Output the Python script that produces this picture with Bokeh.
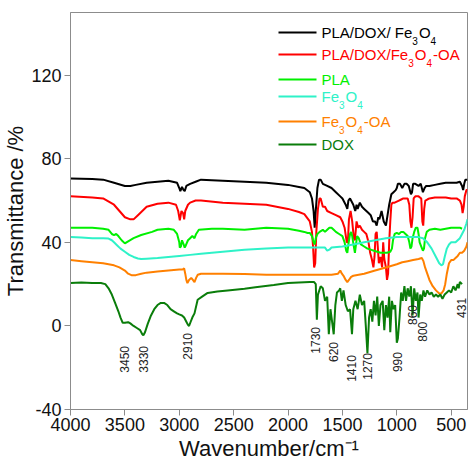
import math
from bokeh.plotting import figure
from bokeh.models import Range1d, FixedTicker, Label, BoxAnnotation, ColumnDataSource
from bokeh.core.properties import value
from bokeh.embed import file_html
from bokeh.resources import INLINE

# ---------------- data ----------------
# legend names as (text, subscript?) pieces
names = [
    [("PLA/DOX/ Fe", False), ("3", True), ("O", False), ("4", True)],
    [("PLA/DOX/Fe", False), ("3", True), ("O", False), ("4", True), ("-OA", False)],
    [("PLA", False)],
    [("Fe", False), ("3", True), ("O", False), ("4", True)],
    [("Fe", False), ("3", True), ("O", False), ("4", True), ("-OA", False)],
    [("DOX", False)],
]
colors = ["#000000", "#ff0000", "#00f000", "#2ef2c8", "#ff8000", "#0a7d0a"]

wn_black = [4000, 3800, 3700, 3600, 3500, 3450, 3400, 3300, 3200, 3100, 3020, 3000, 2990, 2975, 2960, 2950, 2935, 2900, 2850, 2800,
            2600, 2400, 2200, 2000, 1900, 1850, 1800, 1780, 1765, 1755, 1745, 1730, 1715, 1700, 1680, 1640, 1600, 1560, 1520, 1500,
            1470, 1455, 1445, 1430, 1400, 1382, 1370, 1360, 1340, 1320, 1300, 1280, 1260, 1240, 1220, 1200, 1185, 1170, 1160, 1140,
            1120, 1100, 1085, 1070, 1050, 1030, 1010, 1000, 990, 970, 950, 930, 910, 890, 870, 860, 850, 830, 800, 780,
            760, 745, 730, 700, 650, 600, 550, 500, 450, 420, 400, 390, 380, 370, 360, 350]
t_black = [70.5, 70.3, 70, 68.5, 67, 67, 67.5, 68.5, 69, 69.5, 68.5, 66, 64.5, 66.5, 65, 64.5, 67, 68, 69, 70,
           69.5, 69, 68.5, 67.5, 66.5, 66, 64, 61, 55, 47, 55, 66, 70, 70, 68, 67, 66, 64, 62, 61,
           58, 56, 60, 61, 58, 55, 58, 56, 59, 57, 56, 55, 54, 53, 50, 50, 48, 52, 51, 55,
           50, 48, 53, 58, 63, 64, 65, 66, 68, 68, 66, 68, 68, 67, 63, 64, 68, 68, 67, 68,
           64, 66, 67, 67, 67.5, 68, 68.5, 68.5, 68.5, 69, 67, 65, 68, 70, 70, 70]

wn_red = [4000, 3800, 3700, 3600, 3550, 3500, 3450, 3420, 3380, 3300, 3200, 3100, 3030, 3010, 2995, 2980, 2965, 2955, 2945, 2920,
          2900, 2850, 2800, 2600, 2400, 2200, 2000, 1900, 1850, 1800, 1780, 1770, 1760, 1750, 1740, 1725, 1710, 1700, 1680, 1660,
          1640, 1600, 1560, 1520, 1500, 1480, 1460, 1450, 1440, 1425, 1410, 1395, 1385, 1370, 1355, 1340, 1320, 1300, 1280, 1260,
          1245, 1230, 1215, 1205, 1195, 1185, 1175, 1165, 1150, 1135, 1125, 1115, 1100, 1090, 1080, 1070, 1060, 1050, 1040, 1020,
          1000, 980, 960, 940, 920, 900, 885, 875, 865, 855, 845, 830, 800, 775, 765, 757, 748, 738, 720, 700,
          650, 600, 550, 500, 450, 420, 405, 395, 385, 375, 360, 350]
t_red = [62, 61.5, 61, 58, 55, 52, 51, 51, 53, 57, 58.5, 59, 58, 55, 50.5, 55, 54, 51, 55, 58,
         59, 60, 60, 59, 58.5, 58, 56, 54.5, 53.5, 50, 45, 38, 28, 30, 45, 56, 61, 61, 57, 57,
         55, 54, 53, 52, 50, 47, 40, 40, 51, 55, 50, 42, 41, 50, 47, 48, 46, 45, 44, 40,
         35, 32, 28, 33, 44, 45, 38, 30, 33, 28, 40, 32, 28, 22, 25, 40, 50, 58, 59, 59,
         59.5, 60, 60.5, 61, 61, 61, 58, 50, 47, 52, 61, 62, 62, 61, 50, 48, 56, 60, 60.5, 61,
         61.5, 61.5, 61.5, 61, 61, 60, 58, 54, 57, 62, 65, 65]

wn_pla = [4000, 3800, 3700, 3650, 3620, 3600, 3580, 3560, 3530, 3500, 3470, 3420, 3350, 3250, 3200, 3100, 3050, 3020, 3000, 2995,
          2985, 2975, 2960, 2950, 2940, 2920, 2900, 2880, 2860, 2845, 2820, 2700, 2600, 2400, 2200, 2000, 1900, 1850, 1820, 1800,
          1780, 1765, 1755, 1745, 1730, 1710, 1680, 1660, 1640, 1620, 1600, 1580, 1560, 1530, 1500, 1480, 1465, 1455, 1445, 1430,
          1420, 1410, 1395, 1385, 1375, 1365, 1350, 1330, 1300, 1270, 1240, 1210, 1180, 1150, 1120, 1090, 1060, 1045, 1035, 1020,
          1000, 980, 960, 940, 920, 900, 885, 875, 865, 855, 840, 825, 810, 800, 790, 775, 760, 750, 740, 725,
          700, 650, 600, 550, 500, 450, 420, 400]
t_pla = [47, 47, 46.5, 46, 44, 43.5, 44, 43, 41, 39.5, 40.5, 42, 43.5, 45, 46, 46.5, 46, 44, 40, 37.5,
         38, 41, 39, 37.5, 38.5, 41, 42, 43, 42, 44, 46, 46.5, 46.5, 46, 47, 46.5, 45.5, 45, 44.5, 44.5,
         43, 40, 39, 42, 44, 45, 46, 45, 46, 47, 47, 46, 45, 44, 43, 40, 36, 35, 39, 44,
         45, 43, 38, 35, 39, 43, 42, 39, 38, 37, 36.5, 36, 35.5, 35, 35, 35, 35.5, 37, 41, 44,
         44.5, 44, 45, 45, 44, 43, 40, 37, 38, 42, 45, 47, 47, 44, 40, 38, 36, 37, 42, 45,
         46, 46.5, 46, 46.5, 47, 47, 47, 46.5]

wn_fe = [4000, 3900, 3800, 3700, 3650, 3620, 3600, 3570, 3540, 3500, 3460, 3420, 3380, 3350, 3300, 3200, 3100, 3000, 2900, 2800,
         2700, 2600, 2500, 2400, 2200, 2000, 1800, 1700, 1660, 1640, 1620, 1600, 1500, 1400, 1300, 1200, 1100, 1000, 900, 800,
         760, 720, 680, 640, 610, 590, 575, 560, 540, 520, 500, 480, 460, 440, 420, 400, 380, 360, 350]
t_fe = [42.5, 42.3, 42, 42, 41.8, 41, 40, 38.5, 37, 35.5, 34, 33, 32.3, 32, 32.2, 32.5, 33, 33.5, 34, 34.5,
        35, 35.5, 36, 36.5, 37, 37.5, 37.5, 37.5, 37.5, 36, 36.5, 37.5, 38, 39, 40, 41, 42, 42.5, 42.5, 42.5,
        42, 40, 37, 33, 30, 29, 29.5, 33, 37, 39, 40, 40, 40, 41, 42, 44, 46, 49, 51]

wn_feoa = [4000, 3900, 3800, 3700, 3600, 3550, 3500, 3470, 3440, 3400, 3350, 3300, 3200, 3100, 3000, 2970, 2955, 2945, 2935, 2925,
           2910, 2890, 2875, 2860, 2845, 2830, 2800, 2600, 2400, 2200, 2000, 1800, 1700, 1600, 1540, 1520, 1505, 1490, 1470, 1455,
           1440, 1420, 1400, 1300, 1200, 1100, 1000, 950, 900, 850, 800, 770, 755, 740, 720, 700, 670, 640, 610, 590,
           570, 555, 540, 520, 500, 480, 460, 440, 420, 400, 380, 360, 350]
t_feoa = [31.5, 31, 30.5, 30, 29, 28, 26.5, 25, 24.3, 24.3, 25, 25.5, 26, 26.5, 27, 27, 27.5, 25, 22, 20.5,
          22, 23, 22, 21, 23, 24.5, 25, 25, 24.8, 24.5, 24.5, 24.5, 24.5, 24.5, 25, 26.5, 25, 24, 22, 21,
          22, 23.5, 24, 25, 26.5, 28, 29.5, 30.5, 31, 31.5, 32, 32.5, 31, 28, 25, 22, 19, 17, 15.5, 15.5,
          17, 20, 25, 30, 31.5, 31.5, 32.5, 33.5, 35, 35, 36, 38, 40]

wn_dox = [4000, 3900, 3800, 3720, 3680, 3650, 3620, 3590, 3560, 3540, 3520, 3500, 3470, 3450, 3420, 3390, 3360, 3340, 3330, 3315,
          3290, 3260, 3230, 3200, 3170, 3140, 3110, 3080, 3050, 3020, 3000, 2975, 2955, 2935, 2920, 2910, 2895, 2880, 2860, 2831,
          2790, 2739, 2650, 2555, 2400, 2300, 2131, 2000, 1900, 1800, 1760, 1745, 1735, 1725, 1700, 1680, 1660, 1640, 1625, 1610,
          1595, 1580, 1565, 1550, 1530, 1520, 1505, 1490, 1470, 1450, 1430, 1412, 1400, 1380, 1360, 1340, 1320, 1300, 1285, 1270,
          1255, 1240, 1225, 1210, 1195, 1180, 1165, 1150, 1130, 1115, 1100, 1085, 1070, 1060, 1045, 1030, 1015, 1000, 990, 975,
          960, 945, 930, 915, 900, 885, 870, 855, 840, 825, 810, 800, 785, 770, 755, 740, 720, 700, 680, 660,
          640, 620, 600, 580, 560, 540, 520, 500, 480, 460, 440, 431, 420, 400]
t_dox = [20.5, 20.8, 20.5, 20.5, 20, 18, 15, 11, 7, 4, 1.5, 1.5, 1.8, 1.2, 0, -1, -2, -4, -4.5, -3,
         1, 5, 8, 10, 11, 11, 10, 8, 7, 6, 5.5, 5, 4, 2, 0.5, 0, 2, 4, 6, 12.5,
         14, 15.8, 16.5, 17, 17.8, 18.5, 19.6, 20.5, 20.8, 21, 21, 20, 3, 15, 19, 18, 12, 14, -4, 8,
         2, -4, 10, 16, 17, 18, 12, 17, 10, 7, 8, -4, 8, 12, 8, 15, 10, 12, 0, -13,
         4, 8, 2, 12, 5, 14, 0, 10, 12, -2, 10, 4, 14, -3, 12, 8, 10, -8, -6, 4,
         16, 12, 19, 12, 18, 14, 19, 5, 18, 12, 16, 4, 15, 12, 17, 14, 17, 15, 16, 14,
         15, 14, 15, 13, 15, 16, 17, 16, 19, 17, 20, 18, 21, 20]

peak_text = ["3450", "3330", "2910", "1730", "620", "1410", "1270", "990", "860", "800", "431"]
peak_x = [3503, 3328, 2923, 1744, 1578, 1413, 1265, 998, 854, 762, 405]
peak_top = [-9.6, -9.6, -3.4, -0.5, -7.7, -14, -13, -12.5, 10, 2, 13.4]

y_ticks = [-40, 0, 40, 80, 120]
y_tick_labels = ["-40", "0", "40", "80", "120"]
x_ticks = [4000, 3500, 3000, 2500, 2000, 1500, 1000, 500]

series_wn = [wn_black, wn_red, wn_pla, wn_fe, wn_feoa, wn_dox]
series_t = [t_black, t_red, t_pla, t_fe, t_feoa, t_dox]

FONT = "Liberation Sans"
# Arial / Liberation Sans advance widths (em)
CW = {"P": .667, "L": .556, "A": .667, "/": .278, "D": .722, "O": .778, "X": .667, " ": .278,
      "F": .611, "e": .556, "-": .333}


def text_width(s, size):
    return sum(CW.get(ch, .556) for ch in s) * size


p = figure(width=469, height=464, x_range=Range1d(4000, 350), y_range=Range1d(-40, 150),
           output_backend="svg", toolbar_location=None,
           min_border_left=70, min_border_right=2, min_border_top=12, min_border_bottom=55)
p.grid.visible = False
p.outline_line_color = "#8c8c8c"
p.outline_line_width = 1
p.background_fill_color = "white"
p.border_fill_color = "white"

for ax in (p.xaxis[0], p.yaxis[0]):
    ax.axis_line_color = "#8c8c8c"
    ax.major_tick_line_color = "#8c8c8c"
    ax.minor_tick_line_color = None
    ax.major_tick_out = 6
    ax.major_tick_in = 0
    ax.major_label_text_font = FONT
    ax.major_label_text_font_size = "18px"
    ax.major_label_text_color = "#111111"
    ax.axis_label_text_font = FONT
    ax.axis_label_text_font_size = "22px"
    ax.axis_label_text_font_style = "normal"
    ax.axis_label_text_color = "#111111"

p.xaxis.ticker = FixedTicker(ticks=x_ticks)
p.yaxis.ticker = FixedTicker(ticks=y_ticks)
p.yaxis.major_label_overrides = {t: s for t, s in zip(y_ticks, y_tick_labels)}
p.xaxis.major_label_standoff = 2
p.xaxis.axis_label_standoff = 2
p.yaxis.major_label_standoff = 3
p.yaxis.axis_label_standoff = 0
p.xaxis.axis_label = "Wavenumber/cm⁻¹"
p.yaxis.axis_label = "Transmittance /%"

for wn, t, c in zip(series_wn, series_t, colors):
    p.line(wn, t, line_color=c, line_width=2)

src = ColumnDataSource(dict(x=peak_x, y=peak_top, text=peak_text))
p.text(x="x", y="y", text="text", source=src, angle=math.pi / 2,
       text_align="right", text_baseline="middle", text_font=value(FONT),
       text_font_size="12px", text_color="#222222")

# legend (screen units, relative to frame left / bottom)
MAIN, SUB = 15, 10
row_y = [377, 355, 330, 313, 288, 265]
for pieces, c, ry in zip(names, colors, row_y):
    p.add_layout(BoxAnnotation(left=208, right=246, bottom=ry - 1, top=ry + 1,
                               left_units="screen", right_units="screen",
                               bottom_units="screen", top_units="screen",
                               fill_color=c, fill_alpha=1.0, line_alpha=0))
    x = 251
    for txt, sub in pieces:
        size = SUB if sub else MAIN
        p.add_layout(Label(x=x, y=(ry - 8) if sub else ry, x_units="screen", y_units="screen",
                           text=txt, text_font=FONT, text_font_size=f"{size}px", text_color=c,
                           text_baseline="middle", text_align="left"))
        x += text_width(txt, size) + (1 if sub else 0)

open("out.html", "w").write(file_html(p, INLINE))
